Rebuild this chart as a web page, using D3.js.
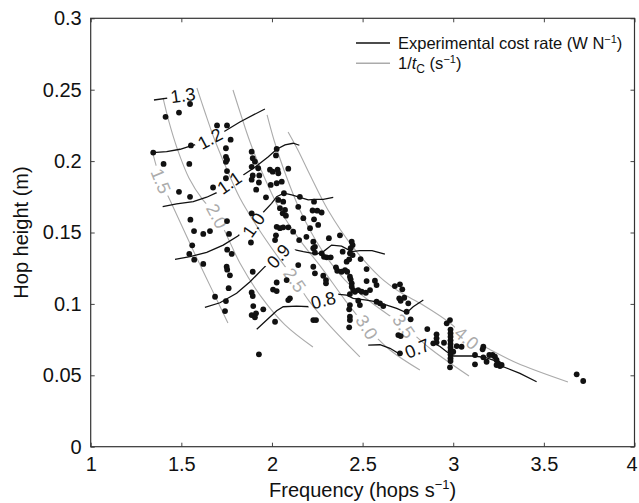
<!DOCTYPE html>
<html>
<head>
<meta charset="utf-8">
<script src="https://cdn.jsdelivr.net/npm/d3@7"></script>
<style>
  body { margin: 0; background: #fff; }
  text { font-family: Arial, "Liberation Sans", Helvetica, sans-serif; }
</style>
</head>
<body>
<svg id="chart" width="639" height="503"></svg>
<script>
// axis ticks
let xTicks = [1, 1.5, 2, 2.5, 3, 3.5, 4]
let xTickLabels = ["1", "1.5", "2", "2.5", "3", "3.5", "4"]
let yTicks = [0, 0.05, 0.1, 0.15, 0.2, 0.25, 0.3]
let yTickLabels = ["0", "0.05", "0.1", "0.15", "0.2", "0.25", "0.3"]

// measured hops: [frequency (hops/s), hop height (m)]
let hops = [
  [1.548,0.240],[1.487,0.234],[1.413,0.231],[1.697,0.225],[1.752,0.225],[1.772,0.215],[1.553,0.211],
  [1.345,0.206],[1.746,0.209],[1.746,0.203],[1.752,0.201],[1.746,0.1995],[1.402,0.198],[1.544,0.198],
  [1.752,0.193],[1.746,0.188],[1.487,0.1785],[1.548,0.175],[1.675,0.1815],[1.550,0.159],[1.570,0.151],
  [1.621,0.149],[1.658,0.151],[1.752,0.158],[1.763,0.149],[1.560,0.141],[1.544,0.135],[1.571,0.131],
  [1.621,0.128],[1.753,0.138],[1.778,0.135],[1.750,0.126],[1.753,0.124],[1.768,0.120],[1.761,0.111],
  [1.686,0.105],[1.746,0.102],[1.741,0.095],
  [1.888,0.2066],[1.894,0.202],[1.906,0.1996],[1.888,0.196],[1.924,0.195],[1.894,0.190],[1.930,0.190],
  [1.888,0.187],[1.928,0.185],[1.913,0.180],[1.967,0.1746],[1.888,0.1634],[1.884,0.143],[1.894,0.1225],
  [1.888,0.108],[1.894,0.1055],[1.897,0.0985],[1.888,0.0922],[1.912,0.0934],[1.952,0.0962],[1.906,0.0906],
  [1.928,0.0647],
  [2.026,0.2085],[2.022,0.204],[1.989,0.194],[2.004,0.1926],[2.031,0.194],[2.035,0.1915],[2.090,0.1947],
  [1.993,0.1833],[2.026,0.1845],[2.054,0.1856],[2.066,0.1775],[2.035,0.1728],[2.062,0.1716],[2.044,0.167],
  [2.072,0.1658],[2.059,0.1634],[2.077,0.1618],[2.026,0.154],[2.044,0.153],[2.062,0.1536],[2.090,0.1536],
  [2.022,0.148],[2.017,0.1447],[2.117,0.1506],[2.026,0.115],[2.006,0.110],[2.026,0.109],[2.081,0.1167],
  [2.017,0.0875],[2.099,0.1039],[2.090,0.1027],
  [2.154,0.175],[2.145,0.168],[2.173,0.160],[2.232,0.1716],[2.224,0.1654],[2.250,0.1653],[2.274,0.164],
  [2.232,0.1592],[2.255,0.1553],[2.210,0.153],[2.150,0.1447],[2.190,0.147],[2.228,0.1436],[2.237,0.140],
  [2.228,0.139],[2.314,0.146],[2.375,0.148],[2.237,0.1359],[2.274,0.1354],[2.287,0.133],[2.302,0.1326],
  [2.324,0.1326],[2.145,0.1272],[2.228,0.126],[2.237,0.1214],[2.283,0.1197],[2.298,0.1167],[2.298,0.1144],
  [2.228,0.0887],[2.243,0.0887],
  [2.353,0.1256],[2.360,0.1232],[2.384,0.1225],[2.403,0.1237],[2.415,0.1225],[2.430,0.119],[2.434,0.1172],
  [2.440,0.1144],[2.440,0.112],[2.440,0.1436],[2.445,0.1412],[2.434,0.139],[2.390,0.1366],[2.430,0.1354],
  [2.445,0.1342],[2.489,0.1314],[2.412,0.1296],[2.426,0.1312],[2.522,0.1244],[2.448,0.1097],[2.458,0.1085],
  [2.476,0.1097],[2.495,0.1085],[2.518,0.1078],[2.541,0.1097],[2.522,0.116],[2.568,0.1162],[2.577,0.1132],
  [2.430,0.1069],[2.430,0.0992],[2.426,0.0962],[2.476,0.1022],[2.485,0.0992],[2.430,0.091],[2.430,0.0887],
  [2.426,0.0836],[2.577,0.1015],[2.596,0.1004],[2.614,0.0985],
  [2.678,0.1125],[2.706,0.1137],[2.719,0.1102],[2.702,0.1039],[2.730,0.1043],[2.710,0.1022],[2.752,0.1004],
  [2.743,0.0945],[2.765,0.0892],[2.697,0.0782],[2.710,0.0775],[2.706,0.0654],
  [2.857,0.0824],[2.908,0.0787],[2.908,0.0759],[2.908,0.0731],[2.890,0.0724],[2.964,0.0864],[2.982,0.0887],
  [2.985,0.0820],[2.985,0.0795],[2.985,0.0770],[2.985,0.0745],[2.985,0.0720],[2.985,0.0695],[2.985,0.0670],
  [2.985,0.0645],[2.985,0.0620],[2.985,0.0600],[2.982,0.0556],
  [2.949,0.0728],[3.019,0.0705],[3.046,0.070],[3.000,0.0665],[3.120,0.0642],[3.120,0.0577],[3.166,0.070],
  [3.162,0.0682],[3.166,0.0626],[3.184,0.0595],[3.199,0.0642],[3.217,0.0642],[3.230,0.063],[3.239,0.0607],
  [3.248,0.0584],[3.258,0.0565],[3.267,0.0572],[3.239,0.0572],[3.681,0.0507],[3.717,0.046]
]

// experimental cost rate contours (W/N)
let costLevels = ["1.3", "1.2", "1.1", "1.0", "0.9", "0.8", "0.7"]
let costLines = [
  [[1.349,0.2428],[1.443,0.2445]],
  [[1.342,0.2059],[1.419,0.2066],[1.493,0.2083],[1.557,0.2108],[1.593,0.2120],[1.723,0.2197],[1.823,0.2274],[1.961,0.2365]],
  [[1.397,0.1681],[1.474,0.1700],[1.566,0.1716],[1.640,0.1747],[1.695,0.1779],[1.823,0.1887],[1.906,0.1957],
   [1.980,0.2031],[2.026,0.2083],[2.072,0.2113],[2.117,0.2125],[2.151,0.2111]],
  [[1.465,0.1312],[1.548,0.1331],[1.640,0.1361],[1.731,0.1412],[1.812,0.1475],[1.943,0.1630],[1.998,0.1704],
   [2.026,0.1751],[2.066,0.1775],[2.109,0.1763],[2.154,0.1746],[2.200,0.1728],[2.237,0.1732],[2.283,0.1732],[2.338,0.1746]],
  [[1.630,0.0976],[1.713,0.1008],[1.805,0.1074],[1.879,0.1155],[1.961,0.1261],[2.090,0.1389],[2.173,0.1366],
   [2.247,0.1349],[2.287,0.1370],[2.329,0.1412],[2.384,0.1405],[2.440,0.1366],[2.485,0.1373],[2.552,0.1373],[2.623,0.1349]],
  [[1.916,0.0822],[1.971,0.0887],[2.026,0.0952],[2.062,0.0980],[2.136,0.0985],[2.210,0.0980],[2.357,0.1069],
   [2.412,0.1062],[2.448,0.1039],[2.522,0.1027],[2.577,0.1015],[2.633,0.0992],[2.688,0.0969],[2.743,0.0938],
   [2.779,0.0980],[2.835,0.1027]],
  [[2.531,0.0712],[2.596,0.0714],[2.651,0.0689],[2.697,0.0654],[2.881,0.0733],[2.927,0.0702],[2.964,0.0665],
   [3.000,0.0635],[3.110,0.0635],[3.175,0.0625],[3.221,0.0607],[3.276,0.0560],[3.368,0.0514],[3.460,0.0455]]
]
let costLabelAt = [[1.509,0.2462],[1.658,0.2158],[1.764,0.1849],[1.898,0.1553],[2.035,0.1335],[2.283,0.1027],[2.801,0.0689]]
let costLabelAngle = [-8, -28, -35, -55, -48, -15, -22]

// 1/tc contours (1/s)
let tcLevels = ["1.5", "2.0", "2.5", "3.0", "3.5", "4.0"]
let tcLines = [
  [[1.338,0.2078],[1.360,0.1973],[1.388,0.1861],[1.437,0.1728],[1.493,0.1574],[1.559,0.1392],[1.630,0.1203],[1.757,0.0867]],
  [[1.399,0.2442],[1.432,0.2274],[1.476,0.2092],[1.542,0.1882],[1.619,0.1728],[1.697,0.1616],[1.757,0.1462],
   [1.823,0.1287],[1.945,0.1042],[2.072,0.0853],[2.226,0.0698]],
  [[1.586,0.2512],[1.630,0.2344],[1.680,0.2162],[1.741,0.1973],[1.823,0.1742],[1.923,0.1532],[2.033,0.1329],
   [2.127,0.1168],[2.204,0.1021],[2.320,0.0846],[2.485,0.0629]],
  [[1.785,0.2498],[1.829,0.2323],[1.879,0.2134],[1.945,0.1924],[2.044,0.1658],[2.154,0.1447],[2.275,0.1251],
   [2.403,0.1027],[2.524,0.0838],[2.651,0.0677],[2.816,0.0537]],
  [[1.973,0.2323],[2.011,0.2148],[2.066,0.1938],[2.154,0.1658],[2.275,0.1377],[2.403,0.1167],[2.552,0.1006],
   [2.728,0.0845],[2.883,0.0677],[3.087,0.0495]],
  [[2.089,0.2204],[2.143,0.2078],[2.210,0.1903],[2.309,0.1658],[2.447,0.1398],[2.596,0.1188],[2.706,0.1083],
   [2.833,0.0992],[2.982,0.0866],[3.075,0.0761],[3.186,0.0691],[3.351,0.0586],[3.633,0.0453]]
]
let tcLabelAt = [[1.388,0.1861],[1.697,0.1616],[2.127,0.1168],[2.524,0.0838],[2.728,0.0845],[3.075,0.0761]]
let tcLabelAngle = [68, 62, 55, 57, 55, 40]

const W = 639, H = 503
const margin = {top: 18.3, right: 4.5, bottom: 56.3, left: 90.7}
const grey = "#ababab"
const ink = "#111"

const svg = d3.select('#chart')
let x = d3.scaleLinear().domain([1, 4]).range([margin.left, W - margin.right])
let y = d3.scaleLinear().domain([0, 0.3]).range([H - margin.bottom, margin.top])

// masks cut the contour lines where their labels sit (inline labels)
const defs = svg.append('defs')
function makeGapMask(id, at, angles) {
    let m = defs.append('mask').attr('id', id).attr('maskUnits', 'userSpaceOnUse')
        .attr('x', 0).attr('y', 0).attr('width', W).attr('height', H)
    m.append('rect').attr('width', W).attr('height', H).attr('fill', 'white')
    at.forEach((p, i) => {
        m.append('rect')
            .attr('x', -16).attr('y', -9).attr('width', 32).attr('height', 18)
            .attr('fill', 'black')
            .attr('transform', `translate(${x(p[0])},${y(p[1])}) rotate(${angles[i]})`)
    })
}
makeGapMask('costGap', costLabelAt, costLabelAngle)
makeGapMask('tcGap', tcLabelAt, tcLabelAngle)

let lineGen = d3.line().x(d => x(d[0])).y(d => y(d[1]))
let smoothGen = d3.line().x(d => x(d[0])).y(d => y(d[1])).curve(d3.curveCatmullRom.alpha(0.5))

// grey 1/tc contours
svg.append('g').attr('mask', 'url(#tcGap)')
    .selectAll('path').data(tcLines).join('path')
    .attr('d', smoothGen)
    .attr('fill', 'none').attr('stroke', grey).attr('stroke-width', 1.1)

svg.append('g').selectAll('text').data(tcLevels).join('text')
    .attr('transform', (d, i) => `translate(${x(tcLabelAt[i][0])},${y(tcLabelAt[i][1])}) rotate(${tcLabelAngle[i]})`)
    .attr('text-anchor', 'middle').attr('dy', '0.36em')
    .attr('font-size', 18).attr('fill', grey)
    .text(d => d)

// black cost contours
svg.append('g').attr('mask', 'url(#costGap)')
    .selectAll('path').data(costLines).join('path')
    .attr('d', lineGen)
    .attr('fill', 'none').attr('stroke', ink).attr('stroke-width', 1.3)

svg.append('g').selectAll('text').data(costLevels).join('text')
    .attr('transform', (d, i) => `translate(${x(costLabelAt[i][0])},${y(costLabelAt[i][1])}) rotate(${costLabelAngle[i]})`)
    .attr('text-anchor', 'middle').attr('dy', '0.36em')
    .attr('font-size', 18).attr('fill', ink)
    .text(d => d)

// data points
svg.append('g').selectAll('circle').data(hops).join('circle')
    .attr('cx', d => x(d[0])).attr('cy', d => y(d[1]))
    .attr('r', 2.9).attr('fill', ink)

// axes, ticks pointing inward on all four sides
function styleAxis(g) {
    g.select('.domain').remove()
    g.selectAll('.tick line').attr('stroke', '#444')
    g.selectAll('.tick text').attr('font-size', 20).attr('fill', ink)
        .attr('font-family', 'Arial, "Liberation Sans", sans-serif')
}
svg.append('g').attr('transform', `translate(0,${y(0)})`)
    .call(d3.axisBottom(x).tickValues(xTicks).tickFormat((d, i) => xTickLabels[i]).tickSize(-4).tickPadding(10))
    .call(styleAxis)
    // last label sits on the right edge; pull it in a touch so it stays whole
    .call(g => g.selectAll('.tick text').filter(d => d == 4).attr('dx', -3))
svg.append('g').attr('transform', `translate(0,${y(0.3)})`)
    .call(d3.axisTop(x).tickValues(xTicks).tickFormat('').tickSize(-4))
    .call(styleAxis)
svg.append('g').attr('transform', `translate(${x(1)},0)`)
    .call(d3.axisLeft(y).tickValues(yTicks).tickFormat((d, i) => yTickLabels[i]).tickSize(-4).tickPadding(9))
    .call(styleAxis)
svg.append('g').attr('transform', `translate(${x(4)},0)`)
    .call(d3.axisRight(y).tickValues(yTicks).tickFormat('').tickSize(-4))
    .call(styleAxis)

svg.append('rect')
    .attr('x', x(1)).attr('y', y(0.3))
    .attr('width', x(4) - x(1)).attr('height', y(0) - y(0.3))
    .attr('fill', 'none').attr('stroke', '#333').attr('stroke-width', 1.2)

// axis titles
let xt = svg.append('text')
    .attr('x', (x(1) + x(4)) / 2).attr('y', 497)
    .attr('text-anchor', 'middle').attr('font-size', 20).attr('fill', ink)
xt.append('tspan').text('Frequency (hops s')
xt.append('tspan').attr('dy', -8).attr('font-size', 13).text('\u22121')
xt.append('tspan').attr('dy', 8).text(')')

svg.append('text')
    .attr('transform', `translate(28,${(y(0) + y(0.3)) / 2}) rotate(-90)`)
    .attr('text-anchor', 'middle').attr('font-size', 20).attr('fill', ink)
    .text('Hop height (m)')

// legend
const lg = svg.append('g')
lg.append('line').attr('x1', 356).attr('x2', 390).attr('y1', 43).attr('y2', 43)
    .attr('stroke', ink).attr('stroke-width', 1.6)
lg.append('line').attr('x1', 356).attr('x2', 390).attr('y1', 63.3).attr('y2', 63.3)
    .attr('stroke', grey).attr('stroke-width', 1.6)

let l1 = lg.append('text').attr('x', 398).attr('y', 49.3).attr('font-size', 16.5).attr('fill', ink)
l1.append('tspan').text('Experimental cost rate (W N')
l1.append('tspan').attr('dy', -6).attr('font-size', 11).text('\u22121')
l1.append('tspan').attr('dy', 6).text(')')

let l2 = lg.append('text').attr('x', 398).attr('y', 68.5).attr('font-size', 16.5).attr('fill', ink)
l2.append('tspan').text('1/')
l2.append('tspan').attr('font-style', 'italic').text('t')
l2.append('tspan').attr('dy', 4).attr('font-size', 12).text('C')
l2.append('tspan').attr('dy', -4).text(' (s')
l2.append('tspan').attr('dy', -6).attr('font-size', 11).text('\u22121')
l2.append('tspan').attr('dy', 6).text(')')
</script>
</body>
</html>
